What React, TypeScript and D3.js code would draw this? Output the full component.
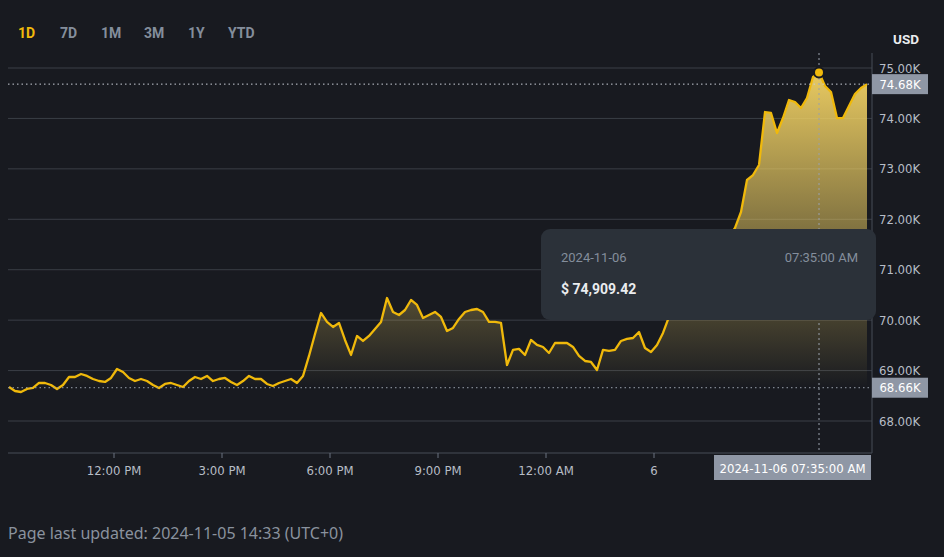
import * as d3 from 'd3'

// 10-minute closes, 2024-11-05 09:05 -> 2024-11-06 08:55
const PRICES: number[] = [
  68674, 68595, 68575, 68635, 68655, 68754, 68754, 68714, 68635, 68714,
  68873, 68873, 68932, 68893, 68833, 68793, 68774, 68853, 69031, 68972,
  68853, 68793, 68833, 68793, 68714, 68655, 68734, 68754, 68714, 68674,
  68793, 68873, 68833, 68893, 68793, 68833, 68853, 68774, 68714, 68793,
  68893, 68833, 68833, 68734, 68694, 68754, 68793, 68833, 68754, 68893,
  69290, 69726, 70142, 69964, 69865, 69944, 69607, 69310, 69686, 69587,
  69686, 69825, 69964, 70439, 70162, 70102, 70201, 70400, 70301, 70043,
  70102, 70162, 70063, 69785, 69845, 70023, 70162, 70201, 70221, 70162,
  69964, 69964, 69944, 69111, 69409, 69429, 69310, 69607, 69508, 69468,
  69349, 69547, 69547, 69547, 69468, 69290, 69190, 69171, 69012, 69409,
  69389, 69409, 69587, 69627, 69646, 69765, 69448, 69369, 69508, 69746,
  70063, 70290, 70420, 70580, 70700, 70950, 71120, 71240, 71350, 71500,
  71650, 71828, 72145, 72779, 72878, 73077, 74127, 74108, 73711, 74008,
  74365, 74326, 74207, 74405, 74821, 74909.42, 74643, 74524, 74008, 74008,
  74246, 74484, 74603, 74680,
]
const START = new Date(2024, 10, 5, 9, 5)
const STEP_MIN = 10
const TIMES = PRICES.map((_, i) => new Date(START.getTime() + i * STEP_MIN * 60000))

const Y_TICKS = [68000, 69000, 70000, 71000, 72000, 73000, 74000, 75000]
const X_TICKS = [
  new Date(2024, 10, 5, 12), new Date(2024, 10, 5, 15), new Date(2024, 10, 5, 18),
  new Date(2024, 10, 5, 21), new Date(2024, 10, 6, 0), new Date(2024, 10, 6, 3),
]
const X_LABELS = ['12:00 PM', '3:00 PM', '6:00 PM', '9:00 PM', '12:00 AM', '6']
const TABS = ['1D', '7D', '1M', '3M', '1Y', 'YTD']
const TAB_X = [18, 60, 101, 144, 188, 228]

const HOVER_IDX = 135
const LAST_PRICE = 74680
const BASE_PRICE = 68660

const W = 944
const H = 557
const LEFT = 8
const RIGHT = 872
const TOP = 53
const BOTTOM = 453

const GOLD = '#F0B90B'
const BG = '#181A20'
const MUTED = '#848E9C'
const AXIS_TXT = '#B7BDC6'
const NARROW = "'Liberation Sans Narrow', 'DejaVu Sans Condensed', Roboto, sans-serif"

export default function App() {
  const x = d3.scaleTime().domain([TIMES[0], TIMES[TIMES.length - 1]]).range([9, 867])
  const y = d3.scaleLinear().domain([68000, 75000]).range([421, 68])

  const line = d3.line<number>().x((_, i) => x(TIMES[i])).y(d => y(d))
  const area = d3.area<number>().x((_, i) => x(TIMES[i])).y0(BOTTOM).y1(d => y(d))

  const hx = x(TIMES[HOVER_IDX])
  const hy = y(PRICES[HOVER_IDX])

  return (
    <svg
      width={W}
      height={H}
      style={{ position: 'fixed', left: 0, top: 0, background: BG, display: 'block' }}
    >
      <defs>
        <linearGradient id="fillG" gradientUnits="userSpaceOnUse" x1={0} x2={0} y1={y(75000)} y2={y(BASE_PRICE)}>
          <stop offset="0%" stopColor="#F2D264" stopOpacity={0.97} />
          <stop offset="100%" stopColor="#F2D264" stopOpacity={0} />
        </linearGradient>
      </defs>
      <rect width={W} height={H} fill={BG} />

      {/* tabs */}
      {TABS.map((t, i) => (
        <text key={t} x={TAB_X[i]} y={38} fontFamily="Roboto, sans-serif" fontWeight={700} fontSize={14}
          fill={i === 0 ? GOLD : MUTED}>{t}</text>
      ))}
      <text x={906} y={44} textAnchor="middle" fontFamily="Roboto, sans-serif" fontWeight={700} fontSize={13.5} fill="#EAECEF">USD</text>

      {/* grid */}
      {Y_TICKS.map(v => (
        <line key={v} x1={LEFT} x2={RIGHT} y1={y(v)} y2={y(v)} stroke="#3A3E46" strokeWidth={1} />
      ))}

      {/* area + line */}
      <path d={area(PRICES) ?? ''} fill="url(#fillG)" />
      <path d={line(PRICES) ?? ''} fill="none" stroke={GOLD} strokeWidth={2.3} strokeLinejoin="round" />

      {/* price lines */}
      <line x1={LEFT} x2={RIGHT} y1={y(LAST_PRICE)} y2={y(LAST_PRICE)} stroke="#C9CED6" strokeDasharray="1.5 3" />
      <line x1={LEFT} x2={RIGHT} y1={y(BASE_PRICE)} y2={y(BASE_PRICE)} stroke="#9AA1AC" strokeDasharray="1.5 3" />

      {/* crosshair */}
      <line x1={hx} x2={hx} y1={TOP} y2={BOTTOM} stroke="#9AA1AC" strokeDasharray="2 3" />
      <circle cx={hx} cy={hy} r={5} fill={GOLD} stroke={BG} strokeWidth={2} />

      {/* axes */}
      <line x1={RIGHT} x2={RIGHT} y1={TOP} y2={BOTTOM} stroke="#474D57" />
      <line x1={LEFT} x2={RIGHT} y1={BOTTOM} y2={BOTTOM} stroke="#474D57" />
      {Y_TICKS.map(v => (
        <text key={v} x={879} y={y(v)} dy="0.35em" fontFamily={NARROW} fontSize={13} fill={AXIS_TXT}>
          {(v / 1000).toFixed(2)}K
        </text>
      ))}
      {X_TICKS.map((t, i) => (
        <g key={i}>
          <line x1={x(t)} x2={x(t)} y1={BOTTOM} y2={BOTTOM + 5} stroke="#6B7280" />
          <text x={x(t)} y={475} textAnchor="middle" fontFamily={NARROW} fontSize={13} fill={AXIS_TXT}>
            {X_LABELS[i]}
          </text>
        </g>
      ))}

      {/* right axis price labels */}
      <rect x={RIGHT} y={y(LAST_PRICE) - 10} width={56} height={20} fill="#8F97A5" />
      <text x={RIGHT + 28} y={y(LAST_PRICE)} dy="0.35em" textAnchor="middle" fontFamily={NARROW} fontSize={13} fill="#FFFFFF">
        {(LAST_PRICE / 1000).toFixed(2)}K
      </text>
      <rect x={RIGHT} y={y(BASE_PRICE) - 10} width={56} height={20} fill="#8F97A5" />
      <text x={RIGHT + 28} y={y(BASE_PRICE)} dy="0.35em" textAnchor="middle" fontFamily={NARROW} fontSize={13} fill="#FFFFFF">
        {(BASE_PRICE / 1000).toFixed(2)}K
      </text>

      {/* bottom crosshair label */}
      <rect x={hx - 105} y={BOTTOM + 2} width={157} height={25} fill="#8F97A5" />
      <text x={hx - 26.5} y={BOTTOM + 15} dy="0.35em" textAnchor="middle" fontFamily={NARROW} fontSize={13} fill="#FFFFFF">
        2024-11-06 07:35:00 AM
      </text>

      {/* tooltip */}
      <rect x={541} y={229} width={335} height={91} rx={9} fill="#2B3139" />
      <text x={561} y={262} fontFamily="Roboto, sans-serif" fontSize={13} fill={MUTED}>2024-11-06</text>
      <text x={858} y={262} textAnchor="end" fontFamily="Roboto, sans-serif" fontSize={13} fill={MUTED}>07:35:00 AM</text>
      <text x={561} y={294} fontFamily="Roboto, sans-serif" fontWeight={700} fontSize={14} fill="#EAECEF">
        $ {d3.format(',.2f')(PRICES[HOVER_IDX])}
      </text>

      {/* footer */}
      <text x={8} y={539} fontFamily="'Noto Sans', Roboto, sans-serif" fontSize={16} fill="#8A929E">
        Page last updated: 2024-11-05 14:33 (UTC+0)
      </text>
    </svg>
  )
}
